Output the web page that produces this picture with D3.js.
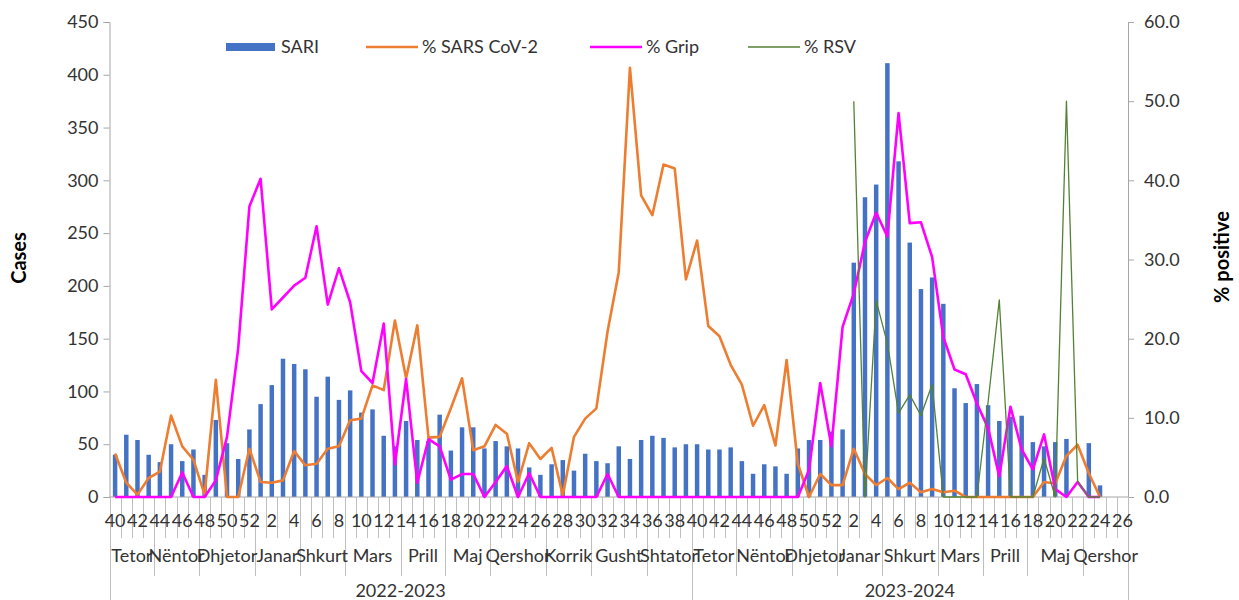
<!DOCTYPE html>
<html>
<head>
<meta charset="utf-8">
<script src="https://cdn.jsdelivr.net/npm/d3@7"></script>
<style>
body{margin:0;background:#fff;}
svg text{font-family:Lato,"Open Sans",sans-serif;fill:#333;}
</style>
</head>
<body>
<svg id="chart" width="1239" height="600" viewBox="0 0 1239 600"></svg>
<script>
// week numbers, season 2022-2023 then 2023-2024
const weeks = [40,41,42,43,44,45,46,47,48,49,50,51,52,1,2,3,4,5,6,7,8,9,10,11,12,13,14,15,16,17,18,19,20,21,22,23,24,25,26,27,28,29,30,31,32,33,34,35,36,37,38,39,
               40,41,42,43,44,45,46,47,48,49,50,51,52,1,2,3,4,5,6,7,8,9,10,11,12,13,14,15,16,17,18,19,20,21,22,23,24,25,26]
const monthLabels = ["Tetor","Nëntor","Dhjetor","Janar","Shkurt","Mars","Prill","Maj","Qershor","Korrik","Gusht","Shtator",
                     "Tetor","Nëntor","Dhjetor","Janar","Shkurt","Mars","Prill","Maj","Qershor"]
const monthLengths = [4,4,5,4,4,5,4,4,5,4,5,4, 4,5,4,4,5,4,4,5,4]
const seasonLabels = ["2022-2023","2023-2024"]
const seasonLengths = [52,39]

// SARI cases (left axis)
const sari = [40,59,54,40,33,50,34,45,21,73,51,36,64,88,106,131,126,121,95,114,92,101,80,83,58,48,72,54,53,78,
              44,66,66,46,53,48,46,28,21,31,35,25,41,34,32,48,36,54,58,56,47,50,
              50,45,45,47,34,22,31,29,22,46,54,54,62,64,222,284,296,411,318,241,197,208,183,103,89,107,87,72,
              76,77,52,48,52,55,null,51,11,null,null]
// % positive (right axis)
const sarsCov2 = [5.5,1.8,0.3,2.4,3.2,10.3,6.4,4.7,0.3,14.8,0,0,6.1,1.9,1.8,2.1,5.8,4.0,4.2,6.1,6.4,9.7,9.9,14.1,13.5,22.3,15.0,21.7,7.5,7.6,
                  11.2,15.0,5.9,6.4,9.1,8.0,1.9,6.8,4.8,6.2,0.2,7.6,9.9,11.2,20.9,28.4,54.2,38.1,35.6,42.0,41.5,27.5,
                  32.4,21.6,20.3,16.7,14.2,9.0,11.6,6.5,17.3,4.2,0,2.9,1.5,1.5,6.1,2.9,1.5,2.4,1.0,1.8,0.6,1.0,0.6,0.8,0,0,0,0,
                  0,0,0,1.9,1.7,5.2,6.6,3.0,0,null,null]
const grip = [0,0,0,0,0,0,3.1,0,0,2.1,7.6,18.8,36.7,40.2,23.7,25.2,26.7,27.7,34.2,24.3,28.9,24.6,15.9,14.4,21.9,4.1,14.9,1.8,7.3,6.4,
              2.2,2.9,2.9,0,1.9,3.9,0,3.0,0,0,0,0,0,0,2.9,0,0,0,0,0,0,0,
              0,0,0,0,0,0,0,0,0,0,3.4,14.4,6.4,21.5,25.7,32.2,35.9,32.9,48.5,34.6,34.7,30.3,20.2,16.1,15.5,11.8,8.7,2.6,
              11.4,6.0,3.5,7.9,1.0,0,1.9,0,0,null,null]
const rsv = [null,null,null,null,null,null,null,null,null,null,null,null,null,null,null,null,null,null,null,null,null,null,null,null,null,null,null,null,null,null,
             null,null,null,null,null,null,null,null,null,null,null,null,null,null,null,null,null,null,null,null,null,null,
             null,null,null,null,null,null,null,null,null,null,null,null,null,null,50,0,24.8,19.4,10.6,12.9,10.3,14.2,0,0,0,0,12,24.9,
             0,0,0,4.9,0,50,2,0,0,null,null]

const svg = d3.select("#chart")
const plotLeft = 109.5, plotRight = 1128, plotTop = 22, plotBottom = 497
const fontSize = "18px"

const x = d3.scaleBand()
    .domain(d3.range(weeks.length))
    .range([plotLeft, plotRight])
    .paddingInner(0.6)
    .paddingOuter(0.3)
const step = x.step()
const cx = i => x(i) + x.bandwidth() / 2

const yL = d3.scaleLinear().domain([0, 450]).range([plotBottom, plotTop])
const yR = d3.scaleLinear().domain([0, 60]).range([plotBottom, plotTop])

// left axis
const axL = svg.append("g")
    .attr("transform", `translate(${plotLeft},0)`)
    .call(d3.axisLeft(yL).tickValues(d3.range(0, 451, 50)).tickSize(6).tickPadding(5))
axL.selectAll("text").style("font-size", fontSize).style("fill", "#333")

// right axis
const axR = svg.append("g")
    .attr("transform", `translate(${plotRight},0)`)
    .call(d3.axisRight(yR).tickValues(d3.range(0, 61, 10)).tickFormat(d3.format(".1f")).tickSize(6).tickPadding(10))
axR.selectAll("text").style("font-size", fontSize).style("fill", "#333")

svg.selectAll(".domain, .tick line").attr("stroke", "#a6a6a6")

// axis titles
svg.append("text")
    .attr("transform", "translate(26,258) rotate(-90)")
    .attr("text-anchor", "middle")
    .style("font-size", "20px").style("font-weight", "bold").style("fill", "#000")
    .text("Cases")
svg.append("text")
    .attr("transform", "translate(1229,257) rotate(-90)")
    .attr("text-anchor", "middle")
    .style("font-size", "20px").style("font-weight", "bold").style("fill", "#000")
    .text("% positive")

// bars
svg.append("g")
    .selectAll("rect")
    .data(sari.map((v, i) => ({v, i})).filter(d => d.v != null))
    .enter()
    .append("rect")
    .attr("x", d => x(d.i))
    .attr("width", x.bandwidth())
    .attr("y", d => yL(d.v))
    .attr("height", d => plotBottom - yL(d.v))
    .attr("fill", "#4472c4")

// category axis line and separators
const cat = svg.append("g").attr("stroke", "#bfbfbf").attr("stroke-width", 1)
cat.append("line").attr("x1", plotLeft).attr("x2", plotRight).attr("y1", plotBottom).attr("y2", plotBottom).attr("stroke", "#a6a6a6")

let monthEdges = new Set(), seasonEdges = new Set()
let acc = 0
monthLengths.forEach(n => { monthEdges.add(acc); acc += n }); monthEdges.add(acc)
acc = 0
seasonLengths.forEach(n => { seasonEdges.add(acc); acc += n }); seasonEdges.add(acc)

d3.range(weeks.length + 1).forEach(k => {
    const xx = Math.round(plotLeft + k * step) + 0.5
    let y2 = 538
    if (monthEdges.has(k)) y2 = 576
    if (seasonEdges.has(k)) y2 = 600
    cat.append("line").attr("x1", xx).attr("x2", xx).attr("y1", plotBottom).attr("y2", y2)
})

// week labels (every second)
svg.append("g")
    .selectAll("text")
    .data(weeks.map((w, i) => ({w, i})).filter(d => d.i % 2 === 0))
    .enter()
    .append("text")
    .attr("x", d => cx(d.i))
    .attr("y", 521)
    .attr("dy", "0.35em")
    .attr("text-anchor", "middle")
    .style("font-size", fontSize)
    .text(d => d.w)

// month labels
let start = 0
const monthPos = monthLengths.map(n => { const c = plotLeft + (start + n / 2) * step; start += n; return c })
svg.append("g")
    .selectAll("text")
    .data(monthLabels)
    .enter()
    .append("text")
    .attr("x", (d, i) => monthPos[i])
    .attr("y", 556)
    .attr("dy", "0.35em")
    .attr("text-anchor", "middle")
    .style("font-size", fontSize)
    .text(d => d)

// season labels
start = 0
const seasonPos = seasonLengths.map(n => { const c = plotLeft + (start + n / 2) * step; start += n; return c })
svg.append("g")
    .selectAll("text")
    .data(seasonLabels)
    .enter()
    .append("text")
    .attr("x", (d, i) => seasonPos[i])
    .attr("y", 591)
    .attr("dy", "0.35em")
    .attr("text-anchor", "middle")
    .style("font-size", fontSize)
    .text(d => d)

// lines
const line = d3.line()
    .defined(d => d != null)
    .x((d, i) => cx(i))
    .y(d => yR(d))

const series = [
    {name: "% SARS CoV-2", data: sarsCov2, color: "#ed7d31", width: 2.6},
    {name: "% Grip", data: grip, color: "#ff00ff", width: 2.6},
    {name: "% RSV", data: rsv, color: "#548235", width: 1.3}
]
series.forEach(s => {
    svg.append("path")
        .datum(s.data)
        .attr("d", line)
        .attr("fill", "none")
        .attr("stroke", s.color)
        .attr("stroke-width", s.width)
        .attr("stroke-linejoin", "round")
})

// legend
const lg = svg.append("g")
const ly = 47
lg.append("rect").attr("x", 226).attr("y", ly - 4).attr("width", 49).attr("height", 8).attr("fill", "#4472c4")
lg.append("text").attr("x", 281).attr("y", ly).attr("dy", "0.35em").style("font-size", fontSize).text("SARI")
const legX = [366, 590, 748]
series.forEach((s, i) => {
    lg.append("line").attr("x1", legX[i]).attr("x2", legX[i] + 52).attr("y1", ly).attr("y2", ly)
        .attr("stroke", s.color).attr("stroke-width", s.width)
    lg.append("text").attr("x", legX[i] + 56).attr("y", ly).attr("dy", "0.35em").style("font-size", fontSize).text(s.name)
})
</script>
</body>
</html>
